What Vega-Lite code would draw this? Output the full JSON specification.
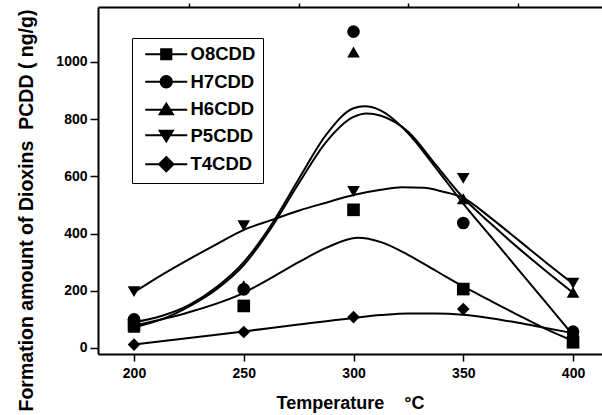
{
  "$schema": "https://vega.github.io/schema/vega-lite/v6.json",
  "width": 504,
  "height": 347,
  "autosize": {"type": "none"},
  "padding": {"left": 98, "top": 7, "right": 0, "bottom": 61},
  "background": "white",
  "config": {"view": {"stroke": null}, "font": "Liberation Sans"},
  "datasets": {
    "points": [
      {"series": "O8CDD", "t": 200, "v": 80}, {"series": "O8CDD", "t": 250, "v": 147}, {"series": "O8CDD", "t": 300, "v": 483}, {"series": "O8CDD", "t": 350, "v": 206}, {"series": "O8CDD", "t": 400, "v": 20},
      {"series": "H7CDD", "t": 200, "v": 100}, {"series": "H7CDD", "t": 250, "v": 205}, {"series": "H7CDD", "t": 300, "v": 1106}, {"series": "H7CDD", "t": 350, "v": 437}, {"series": "H7CDD", "t": 400, "v": 57},
      {"series": "H6CDD", "t": 200, "v": 72}, {"series": "H6CDD", "t": 250, "v": 218}, {"series": "H6CDD", "t": 300, "v": 1035}, {"series": "H6CDD", "t": 350, "v": 522}, {"series": "H6CDD", "t": 400, "v": 195},
      {"series": "P5CDD", "t": 200, "v": 197}, {"series": "P5CDD", "t": 250, "v": 427}, {"series": "P5CDD", "t": 300, "v": 547}, {"series": "P5CDD", "t": 350, "v": 593}, {"series": "P5CDD", "t": 400, "v": 226},
      {"series": "T4CDD", "t": 200, "v": 12}, {"series": "T4CDD", "t": 250, "v": 56}, {"series": "T4CDD", "t": 300, "v": 108}, {"series": "T4CDD", "t": 350, "v": 136}, {"series": "T4CDD", "t": 400, "v": 45}
    ],
    "curves": [
      {"series": "H7CDD", "t": 200, "v": 90}, {"series": "H7CDD", "t": 212.5, "v": 112}, {"series": "H7CDD", "t": 225, "v": 150}, {"series": "H7CDD", "t": 237.5, "v": 212}, {"series": "H7CDD", "t": 250, "v": 300}, {"series": "H7CDD", "t": 262.5, "v": 430}, {"series": "H7CDD", "t": 275, "v": 590}, {"series": "H7CDD", "t": 287.5, "v": 745}, {"series": "H7CDD", "t": 300, "v": 838}, {"series": "H7CDD", "t": 305, "v": 845}, {"series": "H7CDD", "t": 312.5, "v": 830}, {"series": "H7CDD", "t": 325, "v": 750}, {"series": "H7CDD", "t": 337.5, "v": 630}, {"series": "H7CDD", "t": 350, "v": 505}, {"series": "H7CDD", "t": 362.5, "v": 390}, {"series": "H7CDD", "t": 375, "v": 275}, {"series": "H7CDD", "t": 387.5, "v": 160}, {"series": "H7CDD", "t": 400, "v": 45},
      {"series": "H6CDD", "t": 200, "v": 72}, {"series": "H6CDD", "t": 212.5, "v": 100}, {"series": "H6CDD", "t": 225, "v": 145}, {"series": "H6CDD", "t": 237.5, "v": 205}, {"series": "H6CDD", "t": 250, "v": 290}, {"series": "H6CDD", "t": 262.5, "v": 420}, {"series": "H6CDD", "t": 275, "v": 575}, {"series": "H6CDD", "t": 287.5, "v": 720}, {"series": "H6CDD", "t": 300, "v": 808}, {"series": "H6CDD", "t": 306, "v": 820}, {"series": "H6CDD", "t": 312.5, "v": 812}, {"series": "H6CDD", "t": 325, "v": 755}, {"series": "H6CDD", "t": 337.5, "v": 640}, {"series": "H6CDD", "t": 350, "v": 525}, {"series": "H6CDD", "t": 362.5, "v": 435}, {"series": "H6CDD", "t": 375, "v": 350}, {"series": "H6CDD", "t": 387.5, "v": 270}, {"series": "H6CDD", "t": 400, "v": 193},
      {"series": "P5CDD", "t": 200, "v": 195}, {"series": "P5CDD", "t": 212.5, "v": 255}, {"series": "P5CDD", "t": 225, "v": 310}, {"series": "P5CDD", "t": 237.5, "v": 362}, {"series": "P5CDD", "t": 250, "v": 413}, {"series": "P5CDD", "t": 262.5, "v": 447}, {"series": "P5CDD", "t": 275, "v": 480}, {"series": "P5CDD", "t": 287.5, "v": 508}, {"series": "P5CDD", "t": 300, "v": 535}, {"series": "P5CDD", "t": 312.5, "v": 553}, {"series": "P5CDD", "t": 322, "v": 562}, {"series": "P5CDD", "t": 332, "v": 560}, {"series": "P5CDD", "t": 340, "v": 548}, {"series": "P5CDD", "t": 350, "v": 525}, {"series": "P5CDD", "t": 362.5, "v": 455}, {"series": "P5CDD", "t": 375, "v": 378}, {"series": "P5CDD", "t": 387.5, "v": 300}, {"series": "P5CDD", "t": 400, "v": 225},
      {"series": "O8CDD", "t": 200, "v": 78}, {"series": "O8CDD", "t": 225, "v": 125}, {"series": "O8CDD", "t": 250, "v": 193}, {"series": "O8CDD", "t": 262.5, "v": 245}, {"series": "O8CDD", "t": 275, "v": 300}, {"series": "O8CDD", "t": 287.5, "v": 350}, {"series": "O8CDD", "t": 302, "v": 385}, {"series": "O8CDD", "t": 312.5, "v": 370}, {"series": "O8CDD", "t": 325, "v": 325}, {"series": "O8CDD", "t": 337.5, "v": 270}, {"series": "O8CDD", "t": 350, "v": 215}, {"series": "O8CDD", "t": 362.5, "v": 165}, {"series": "O8CDD", "t": 375, "v": 115}, {"series": "O8CDD", "t": 387.5, "v": 67}, {"series": "O8CDD", "t": 400, "v": 25},
      {"series": "T4CDD", "t": 200, "v": 12}, {"series": "T4CDD", "t": 225, "v": 35}, {"series": "T4CDD", "t": 250, "v": 58}, {"series": "T4CDD", "t": 275, "v": 82}, {"series": "T4CDD", "t": 300, "v": 105}, {"series": "T4CDD", "t": 312.5, "v": 115}, {"series": "T4CDD", "t": 325, "v": 121}, {"series": "T4CDD", "t": 337.5, "v": 121}, {"series": "T4CDD", "t": 350, "v": 116}, {"series": "T4CDD", "t": 362.5, "v": 104}, {"series": "T4CDD", "t": 375, "v": 88}, {"series": "T4CDD", "t": 387.5, "v": 70}, {"series": "T4CDD", "t": 400, "v": 52}
    ]
  },
  "layer": [
    {
      "data": {"name": "curves"},
      "mark": {"type": "line", "interpolate": "monotone", "color": "black", "strokeWidth": 2},
      "encoding": {
        "x": {
          "field": "t", "type": "quantitative",
          "scale": {"domain": [183.6, 413.2], "nice": false, "zero": false},
          "axis": {
            "values": [200, 250, 300, 350, 400],
            "tickSize": 7, "tickWidth": 1.5, "tickColor": "black",
            "domainColor": "black", "domainWidth": 2,
            "labelFont": "Liberation Sans", "labelFontWeight": "bold", "labelFontSize": 14, "labelColor": "black",
            "labelPadding": 5, "labelOverlap": false, "labelFlush": false,
            "title": "Temperature\u00a0\u00a0\u00a0\u00a0°C",
            "titleFont": "Liberation Sans", "titleFontWeight": "bold", "titleFontSize": 18, "titleColor": "black",
            "titlePadding": 14, "grid": false
          }
        },
        "y": {
          "field": "v", "type": "quantitative",
          "scale": {"domain": [-21, 1192], "nice": false, "zero": false},
          "axis": {
            "values": [0, 200, 400, 600, 800, 1000],
            "format": "d",
            "tickSize": 8, "tickWidth": 1.5, "tickColor": "black",
            "domainColor": "black", "domainWidth": 2,
            "labelFont": "Liberation Sans", "labelFontWeight": "bold", "labelFontSize": 14, "labelColor": "black",
            "labelPadding": 3, "labelOverlap": false, "labelFlush": false,
            "title": "Formation amount of Dioxins\u00a0\u00a0PCDD ( ng/g)",
            "titleFont": "Liberation Sans", "titleFontWeight": "bold", "titleFontSize": 19.5, "titleColor": "black",
            "titlePadding": 19, "titleY": 203, "grid": false
          }
        },
        "detail": {"field": "series"}
      }
    },
    {
      "data": {"name": "points"},
      "mark": {"type": "point", "filled": true, "color": "black", "size": 160, "opacity": 1},
      "encoding": {
        "x": {"field": "t", "type": "quantitative", "axis": {"values": [225, 275, 325, 375], "labels": false, "domain": false, "tickSize": 4, "tickWidth": 1.5, "tickColor": "black", "title": null, "grid": false}},
        "y": {"field": "v", "type": "quantitative", "axis": {"values": [100, 300, 500, 700, 900, 1100], "labels": false, "domain": false, "tickSize": 4, "tickWidth": 1.5, "tickColor": "black", "title": null, "grid": false}},
        "shape": {
          "field": "series", "type": "nominal",
          "scale": {"domain": ["O8CDD", "H7CDD", "H6CDD", "P5CDD", "T4CDD"], "range": ["square", "circle", "triangle-up", "triangle-down", "diamond"]},
          "legend": null
        }
      }
    },
    {
      "data": {"name": "points"},
      "mark": {"type": "point", "filled": false, "color": "black", "strokeWidth": 2, "opacity": 0},
      "encoding": {
        "x": {"field": "t", "type": "quantitative", "axis": {"orient": "top", "labels": false, "ticks": false, "domain": true, "domainWidth": 2, "domainColor": "black", "title": null, "grid": false}},
        "y": {"field": "v", "type": "quantitative", "axis": null},
        "shape": {
          "field": "series", "type": "nominal",
          "scale": {"domain": ["O8CDD", "H7CDD", "H6CDD", "P5CDD", "T4CDD"], "range": [
            "M-0.5,0H6.5M2.15,-0.85H3.85V0.85H2.15ZM2.15,-0.55H3.85M2.15,-0.25H3.85M2.15,0.25H3.85M2.15,0.55H3.85",
            "M-0.5,0H6.5M2.05,0A0.95,0.95 0 1,0 3.95,0A0.95,0.95 0 1,0 2.05,0ZM2.1,0.3H3.9M2.1,-0.3H3.9M2.26,0.6H3.74M2.26,-0.6H3.74M2.49,0.8H3.51M2.49,-0.8H3.51",
            "M-0.5,0.1H6.5M3,-0.95L4.1,0.85H1.9ZM2.76,-0.55H3.24M2.57,-0.25H3.43M2.47,-0.08H3.53M2.18,0.4H3.82M2.02,0.65H3.98",
            "M-0.5,-0.1H6.5M3,0.95L4.1,-0.85H1.9ZM2.76,0.55H3.24M2.57,0.25H3.43M2.47,0.08H3.53M2.18,-0.4H3.82M2.02,-0.65H3.98",
            "M-0.5,0H6.5M3,-1.2L4.2,0L3,1.2L1.8,0ZM2.1,0.3H3.9M2.1,-0.3H3.9M2.4,0.6H3.6M2.4,-0.6H3.6M2.7,0.9H3.3M2.7,-0.9H3.3"
          ]},
          "legend": {
            "orient": "none", "legendX": 34, "legendY": 31,
            "title": null,
            "padding": 7,
            "strokeColor": "black",
            "fillColor": "white",
            "symbolSize": 144, "symbolStrokeWidth": 2,
            "symbolOffset": 0, "labelOffset": 33,
            "symbolOpacity": 1,
            "symbolFillColor": "black", "symbolStrokeColor": "black",
            "rowPadding": 7.5,
            "labelFont": "Liberation Sans", "labelFontWeight": "bold", "labelFontSize": 18.5, "labelColor": "black"
          }
        }
      }
    }
  ],
  "resolve": {"axis": {"x": "independent", "y": "independent"}, "scale": {"shape": "independent"}}
}
